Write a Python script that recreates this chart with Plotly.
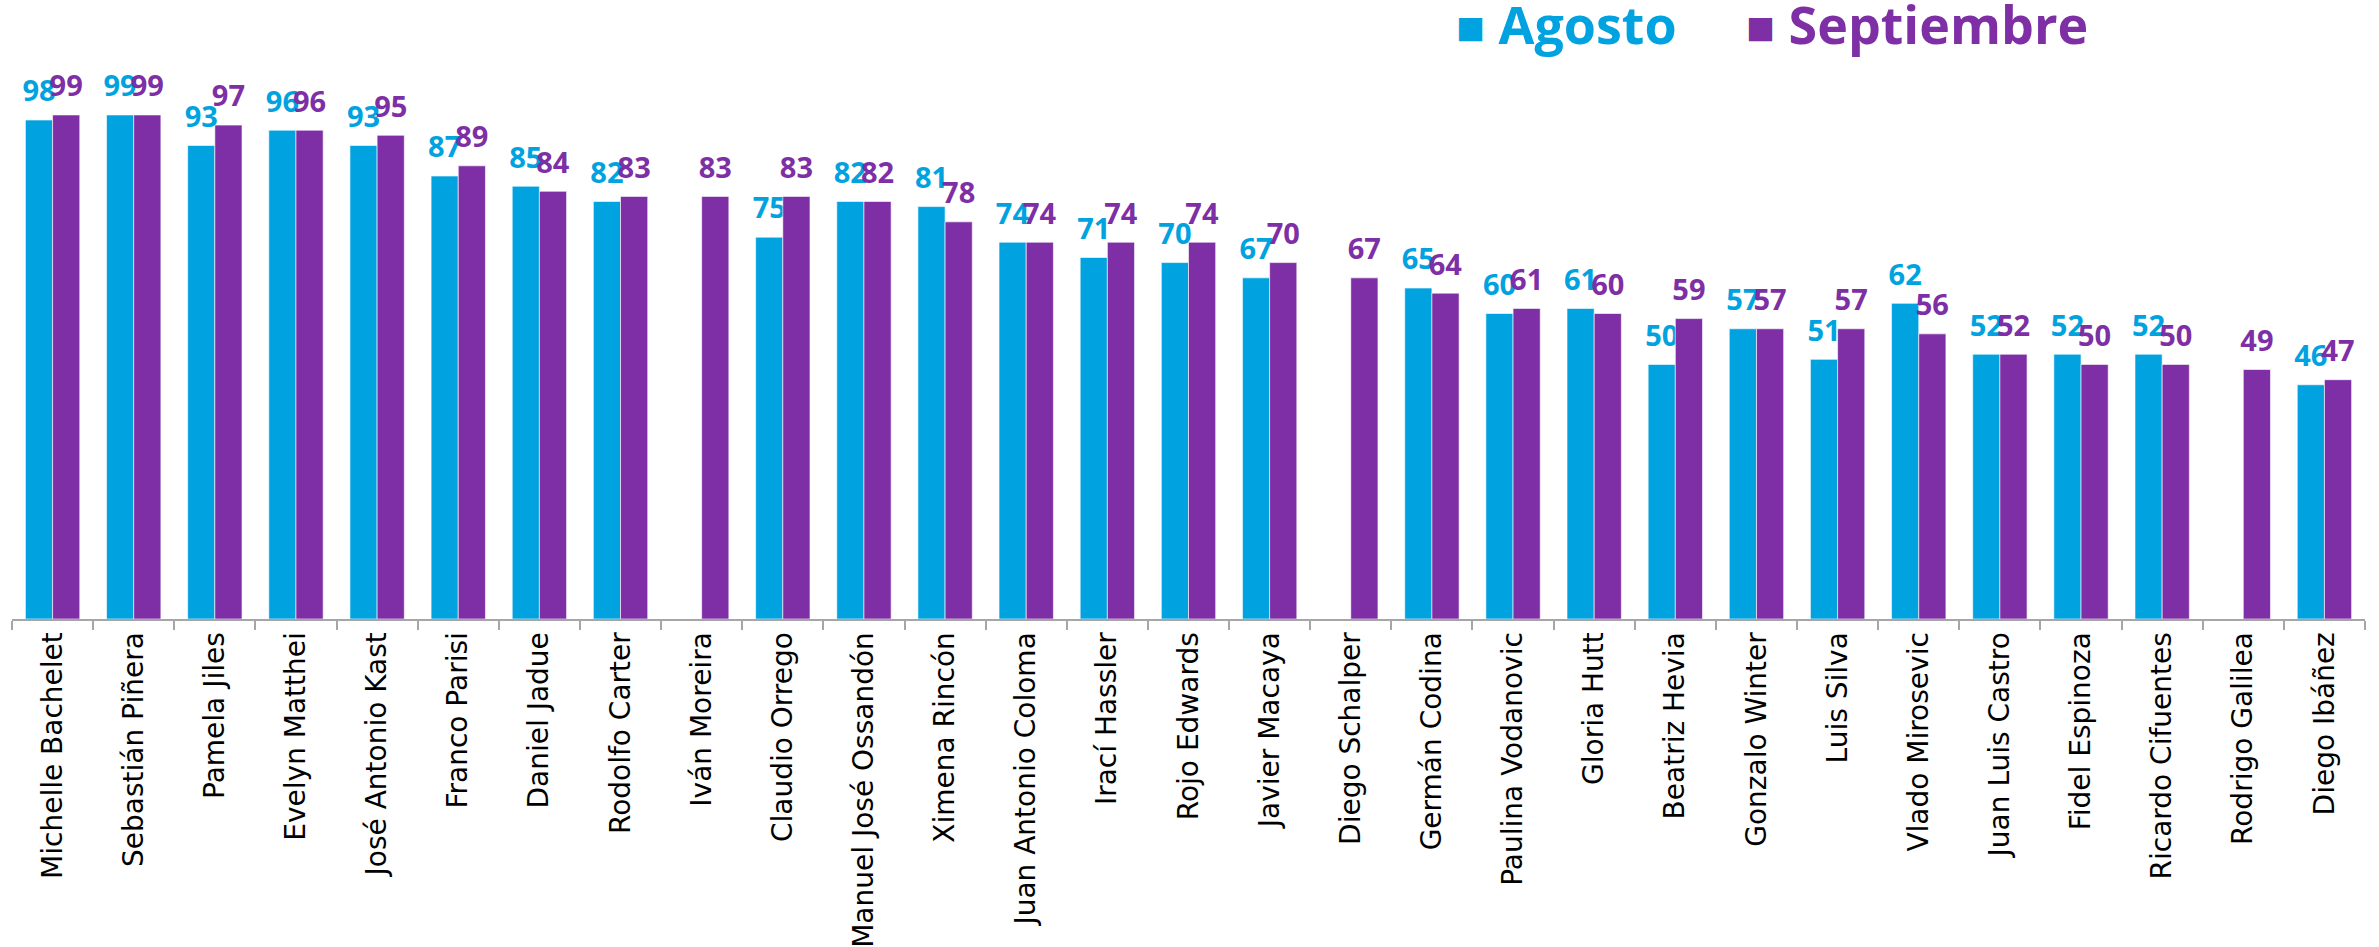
import plotly.graph_objects as go

categories = ["Michelle Bachelet", "Sebastián Piñera", "Pamela Jiles", "Evelyn Matthei",
              "José Antonio Kast", "Franco Parisi", "Daniel Jadue", "Rodolfo Carter",
              "Iván Moreira", "Claudio Orrego", "Manuel José Ossandón", "Ximena Rincón",
              "Juan Antonio Coloma", "Irací Hassler", "Rojo Edwards", "Javier Macaya",
              "Diego Schalper", "Germán Codina", "Paulina Vodanovic", "Gloria Hutt",
              "Beatriz Hevia", "Gonzalo Winter", "Luis Silva", "Vlado Mirosevic",
              "Juan Luis Castro", "Fidel Espinoza", "Ricardo Cifuentes", "Rodrigo Galilea",
              "Diego Ibáñez"]
agosto = [98, 99, 93, 96, 93, 87, 85, 82, None, 75, 82, 81, 74, 71, 70, 67, None,
          65, 60, 61, 50, 57, 51, 62, 52, 52, 52, None, 46]
septiembre = [99, 99, 97, 96, 95, 89, 84, 83, 83, 83, 82, 78, 74, 74, 74, 70, 67,
              64, 61, 60, 59, 57, 57, 56, 52, 50, 50, 49, 47]
series_names = ["Agosto", "Septiembre"]
colors = ["#00A3E0", "#7E2FA5"]

LABEL_GAP = 1.5  # invisible spacer (axis units) lifting the value labels off the bars

fig = go.Figure()
for name, vals, col in zip(series_names, [agosto, septiembre], colors):
    fig.add_trace(go.Bar(
        x=categories, y=vals, name=name, offsetgroup=name,
        marker=dict(color=col, line=dict(color="rgba(255,255,255,0.6)", width=1)),
        showlegend=False,
    ))
    fig.add_trace(go.Bar(
        x=categories, y=[None if v is None else LABEL_GAP for v in vals], base=vals,
        offsetgroup=name, name=name + " etiqueta",
        marker=dict(color="rgba(0,0,0,0)", line=dict(width=0)),
        text=[("" if v is None else str(v)) for v in vals],
        textposition="outside", cliponaxis=False, constraintext="none",
        textfont=dict(family="Open Sans", size=29, color=col, weight="bold"),
        showlegend=False, hoverinfo="skip",
    ))

fig.update_layout(
    width=2379, height=947,
    barmode="group", bargap=0.33, bargroupgap=0,
    plot_bgcolor="white", paper_bgcolor="white",
    margin=dict(l=12, r=14, t=8, b=328, autoexpand=False),
    xaxis=dict(
        type="category", tickangle=-90, showline=True, linecolor="#A6A6A6", linewidth=2,
        ticks="outside", ticklen=9, tickcolor="#A6A6A6", tickwidth=1.5, tickson="boundaries",
        tickfont=dict(family="DejaVu Sans", size=28, color="black"),
        showgrid=False, automargin=False,
    ),
    yaxis=dict(range=[0, 120], visible=False, showgrid=False, automargin=False),
)

leg_x = [0.613, 0.736]
for name, col, lx in zip(series_names, colors, leg_x):
    fig.add_annotation(
        xref="paper", yref="paper", x=lx, y=0.974, xanchor="left", yanchor="middle",
        text="<span style='font-size:48px'>■</span> <b>" + name + "</b>", showarrow=False,
        font=dict(family="Open Sans", size=52, color=col),
    )

fig.write_html("out.html", config={"displayModeBar": False},
               post_script="document.body.style.margin='0';")
